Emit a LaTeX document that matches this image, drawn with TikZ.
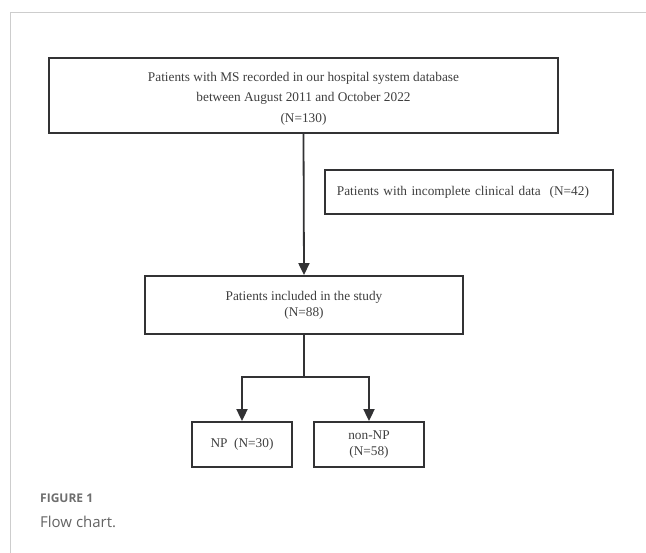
\documentclass[tikz,border=0pt]{standalone}
\usepackage{fontspec}
\setmainfont{Liberation Serif}
\newfontfamily\capfont{Open Sans}
\usetikzlibrary{arrows.meta,positioning}
\definecolor{boxline}{RGB}{50,50,52}
\definecolor{boxtext}{RGB}{62,62,62}
\definecolor{rulegray}{RGB}{205,205,205}
\definecolor{capgray}{RGB}{110,110,110}

\tikzset{
  flowbox/.style={draw=boxline, line width=1.8pt, align=center, text=boxtext,
    font=\fontsize{13.3}{20.5}\selectfont, inner sep=0pt},
  flowarrow/.style={draw=boxline, line width=1.8pt,
    -{Triangle[length=12pt,width=11pt]}},
}

\begin{document}
\begin{tikzpicture}[x=1pt,y=-1pt]
          \useasboundingbox (0,0) rectangle (646,553);
          \draw [rulegray, line width=1pt] (646,13) -- (10,13) -- (10,553);

          % boxes of the chart
          \node [flowbox, minimum width=509pt, minimum height=75pt] (all) at (303.5,95.5)
            {\rule{0pt}{15pt}Patients with MS recorded in our hospital system database\\
             between August 2011 and October 2022\\ (N=130)};
          \node [flowbox, text width=264pt, align=left, inner xsep=12pt, minimum height=44pt, anchor=west] (excl) at (324,192)
            {Patients with incomplete clinical data\ \ (N=42)};
          \node [flowbox, font=\fontsize{13.3}{16}\selectfont, minimum width=318pt, minimum height=58pt] (incl) at (304,305)
            {Patients included in the study\\ (N=88)};
          \node [flowbox, minimum width=100pt, minimum height=45pt] (np) at (242,444.5)
            {NP\ \ (N=30)};
          \node [flowbox, font=\fontsize{13.3}{16}\selectfont, minimum width=110pt, minimum height=45pt] (nonnp) at (369,444.5)
            {non-NP\\ (N=58)};

          % connectors
          \draw [flowarrow] (all.south) -- (incl.north);
          \coordinate (split) at (304,377);
          \draw [draw=boxline, line width=1.8pt] (incl.south) -- (split);
          \draw [flowarrow] (split) -| (np.north);
          \draw [flowarrow] (split) -| (nonnp.north);

          % caption
          \node [anchor=base west, inner sep=0pt, text=capgray, font=\capfont\bfseries\fontsize{12}{14}\selectfont] (fig) at (40,503) {FIGURE 1};
          \node [anchor=base west, inner sep=0pt, text=capgray!90!black, font=\capfont\fontsize{15}{18}\selectfont] (cap) at (40,527) {Flow chart.};
        \end{tikzpicture}
\end{document}
